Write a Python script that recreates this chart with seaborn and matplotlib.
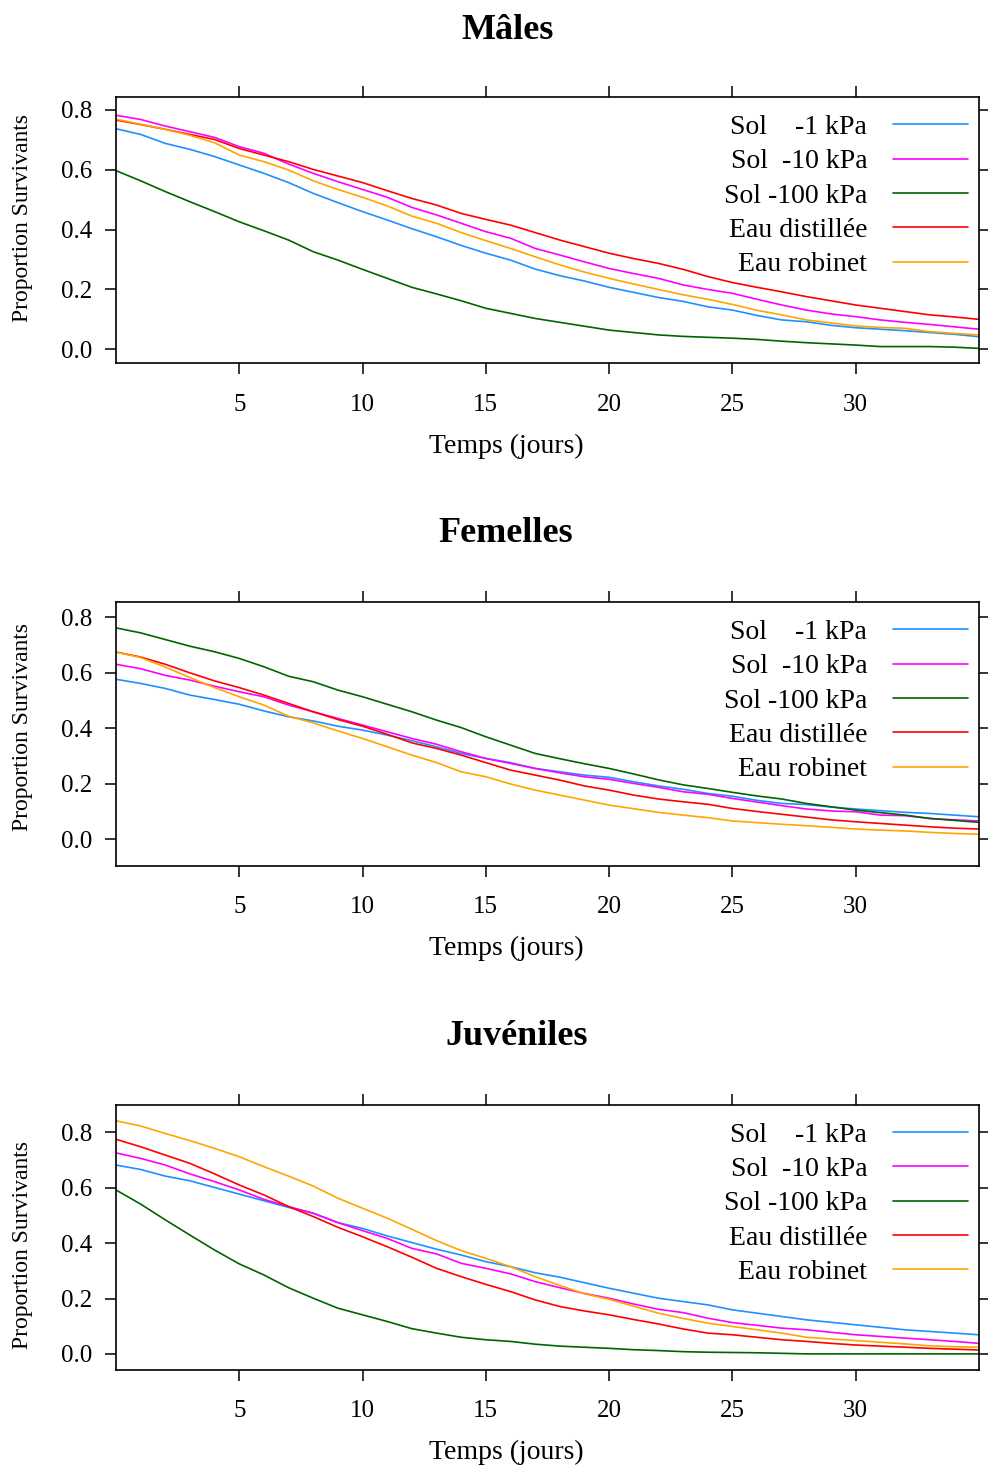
import numpy as np, pandas as pd
import matplotlib
matplotlib.use("Agg")
import matplotlib.pyplot as plt
import seaborn as sns
from matplotlib.ticker import FormatStrFormatter

# --- données ---
jours = list(range(36))
traitements = ["Sol    -1 kPa", "Sol  -10 kPa", "Sol -100 kPa", "Eau distillée", "Eau robinet"]
couleurs = ["#1E90FF", "#FF00FF", "#006400", "#FF0000", "#FFA500"]
titres = ["Mâles", "Femelles", "Juvéniles"]

m_sol1 = [0.737,0.718,0.688,0.668,0.644,0.616,0.588,0.557,0.521,0.490,0.460,0.432,0.403,0.376,0.347,0.321,0.298,0.268,0.246,0.228,0.207,0.190,0.173,0.160,0.142,0.131,0.113,0.098,0.092,0.080,0.072,0.067,0.062,0.056,0.050,0.042]
m_sol10 = [0.782,0.768,0.746,0.727,0.708,0.677,0.655,0.619,0.588,0.560,0.534,0.508,0.474,0.449,0.421,0.393,0.371,0.337,0.315,0.292,0.270,0.253,0.237,0.215,0.200,0.187,0.167,0.148,0.131,0.118,0.109,0.098,0.090,0.083,0.075,0.067]
m_sol100 = [0.597,0.563,0.527,0.493,0.460,0.426,0.396,0.365,0.326,0.298,0.267,0.237,0.207,0.185,0.162,0.137,0.120,0.103,0.090,0.077,0.064,0.056,0.048,0.043,0.040,0.037,0.033,0.027,0.022,0.018,0.014,0.009,0.009,0.009,0.007,0.003]
m_distillee = [0.766,0.751,0.735,0.718,0.701,0.671,0.649,0.627,0.601,0.579,0.557,0.530,0.504,0.482,0.454,0.434,0.415,0.390,0.365,0.343,0.321,0.303,0.287,0.267,0.243,0.223,0.207,0.192,0.176,0.162,0.148,0.137,0.126,0.115,0.108,0.100]
m_robinet = [0.769,0.752,0.735,0.715,0.690,0.649,0.627,0.599,0.563,0.534,0.508,0.479,0.445,0.421,0.390,0.363,0.337,0.309,0.282,0.258,0.237,0.218,0.200,0.182,0.167,0.150,0.130,0.115,0.098,0.088,0.078,0.073,0.070,0.059,0.053,0.048]

f_sol1 = [0.576,0.561,0.543,0.519,0.503,0.486,0.462,0.441,0.426,0.407,0.393,0.375,0.355,0.333,0.309,0.291,0.276,0.255,0.243,0.231,0.223,0.207,0.192,0.180,0.165,0.155,0.140,0.129,0.125,0.116,0.109,0.103,0.097,0.093,0.087,0.081]
f_sol10 = [0.630,0.614,0.590,0.573,0.551,0.531,0.513,0.483,0.459,0.435,0.411,0.387,0.363,0.342,0.315,0.291,0.273,0.255,0.239,0.225,0.216,0.201,0.187,0.171,0.162,0.147,0.134,0.121,0.109,0.102,0.099,0.087,0.085,0.075,0.070,0.066]
f_sol100 = [0.761,0.743,0.719,0.695,0.675,0.651,0.621,0.587,0.567,0.537,0.513,0.486,0.459,0.429,0.402,0.369,0.339,0.309,0.290,0.272,0.255,0.235,0.214,0.196,0.183,0.169,0.156,0.145,0.129,0.117,0.105,0.096,0.087,0.075,0.068,0.061]
f_distillee = [0.674,0.656,0.630,0.599,0.570,0.546,0.519,0.489,0.459,0.431,0.407,0.378,0.347,0.327,0.303,0.276,0.249,0.231,0.213,0.192,0.177,0.159,0.145,0.135,0.126,0.111,0.100,0.090,0.080,0.070,0.063,0.057,0.051,0.045,0.040,0.037]
f_robinet = [0.674,0.654,0.620,0.582,0.546,0.513,0.483,0.443,0.419,0.390,0.363,0.333,0.303,0.276,0.243,0.225,0.199,0.177,0.159,0.141,0.123,0.110,0.097,0.087,0.078,0.066,0.060,0.054,0.049,0.043,0.037,0.033,0.030,0.025,0.021,0.018]

j_sol1 = [0.682,0.666,0.642,0.625,0.601,0.577,0.553,0.529,0.508,0.474,0.453,0.426,0.402,0.378,0.357,0.333,0.315,0.293,0.277,0.257,0.237,0.219,0.201,0.189,0.177,0.159,0.147,0.135,0.123,0.114,0.105,0.096,0.087,0.081,0.075,0.069]
j_sol10 = [0.726,0.706,0.682,0.650,0.622,0.592,0.558,0.532,0.508,0.474,0.445,0.417,0.381,0.361,0.327,0.309,0.289,0.261,0.239,0.218,0.201,0.180,0.161,0.149,0.129,0.113,0.103,0.093,0.087,0.078,0.069,0.063,0.057,0.051,0.045,0.038]
j_sol100 = [0.592,0.541,0.484,0.429,0.375,0.325,0.285,0.239,0.201,0.165,0.141,0.117,0.091,0.075,0.060,0.051,0.045,0.035,0.028,0.024,0.020,0.015,0.012,0.008,0.006,0.005,0.004,0.002,0.0,0.0,0.0,0.0,0.0,0.0,0.0,0.0]
j_distillee = [0.775,0.748,0.718,0.688,0.650,0.610,0.574,0.532,0.496,0.457,0.423,0.387,0.349,0.309,0.279,0.251,0.225,0.195,0.171,0.155,0.141,0.124,0.108,0.090,0.075,0.069,0.060,0.051,0.045,0.038,0.032,0.028,0.024,0.020,0.017,0.014]
j_robinet = [0.842,0.823,0.796,0.770,0.742,0.712,0.676,0.642,0.606,0.562,0.526,0.490,0.450,0.409,0.373,0.345,0.315,0.279,0.247,0.217,0.197,0.172,0.147,0.128,0.111,0.099,0.087,0.075,0.060,0.054,0.048,0.042,0.036,0.029,0.026,0.024]

panneaux = [
    [m_sol1, m_sol10, m_sol100, m_distillee, m_robinet],
    [f_sol1, f_sol10, f_sol100, f_distillee, f_robinet],
    [j_sol1, j_sol10, j_sol100, j_distillee, j_robinet],
]

# --- mise en page (fractions de la figure) ---
rects = [[0.1174, 0.7525, 0.8735, 0.1812],
         [0.1174, 0.4103, 0.8735, 0.1794],
         [0.1174, 0.0668, 0.8735, 0.1805]]
ylims = [(-0.047, 0.842), (-0.095, 0.853), (-0.058, 0.899)]
titre_pos = [(0.514, 1 - 39 / 1468), (0.512, 1 - 542 / 1468), (0.523, 1 - 1045 / 1468)]
ylabel_y = [0.545, 0.527, 0.47]


def versLong(series):
    """ Passe les séries d'un panneau au format long pour seaborn """
    df = pd.DataFrame({t: s for t, s in zip(traitements, series)})
    df["Temps"] = jours
    return df.melt(id_vars="Temps", var_name="Traitement", value_name="Proportion")


sns.set_style("ticks")
plt.rcParams['font.family'] = ['Liberation Serif', 'DejaVu Serif']
plt.rcParams['text.color'] = 'black'
plt.rcParams['axes.labelcolor'] = 'black'

fig = plt.figure(figsize=(9.88, 14.68), dpi=100)
palette = dict(zip(traitements, couleurs))

for i, series in enumerate(panneaux):
    ax = fig.add_axes(rects[i])
    df = versLong(series)
    sns.lineplot(data=df, x="Temps", y="Proportion", hue="Traitement",
                 hue_order=traitements, palette=palette, linewidth=1.2, ax=ax)

    ax.set_xlim(0, 35)
    ax.set_ylim(*ylims[i])
    ax.set_xticks([5, 10, 15, 20, 25, 30])
    ax.set_yticks([0.0, 0.2, 0.4, 0.6, 0.8])
    ax.yaxis.set_major_formatter(FormatStrFormatter('%.1f'))
    ax.tick_params(axis='both', direction='out', length=8, width=1.1,
                   top=True, right=True, labeltop=False, labelright=False,
                   labelsize=18, colors='black')
    ax.tick_params(axis='x', pad=14)
    ax.tick_params(axis='y', pad=9)
    for sp in ax.spines.values():
        sp.set_visible(True)
        sp.set_linewidth(1.2)
        sp.set_color('black')

    ax.set_xlabel("Temps (jours)", fontsize=20, color='black')
    ax.xaxis.set_label_coords(0.452, -0.265)
    ax.set_ylabel("Proportion Survivants", fontsize=17, color='black')
    ax.yaxis.set_label_coords(-0.096, ylabel_y[i])

    handles, labels = ax.get_legend_handles_labels()
    leg = ax.legend(handles, labels, loc='upper right', bbox_to_anchor=(1, 0.977),
                    frameon=False, markerfirst=False, fontsize=20,
                    handlelength=2.7, handletextpad=0.92, labelspacing=0.32,
                    borderaxespad=0, borderpad=0.4)
    for t in leg.get_texts():
        t.set_color('black')

    fig.text(titre_pos[i][0], titre_pos[i][1], titres[i], ha='center',
             va='baseline', fontsize=26, fontweight='bold', color='black')

fig.savefig("out.png", dpi=100)
